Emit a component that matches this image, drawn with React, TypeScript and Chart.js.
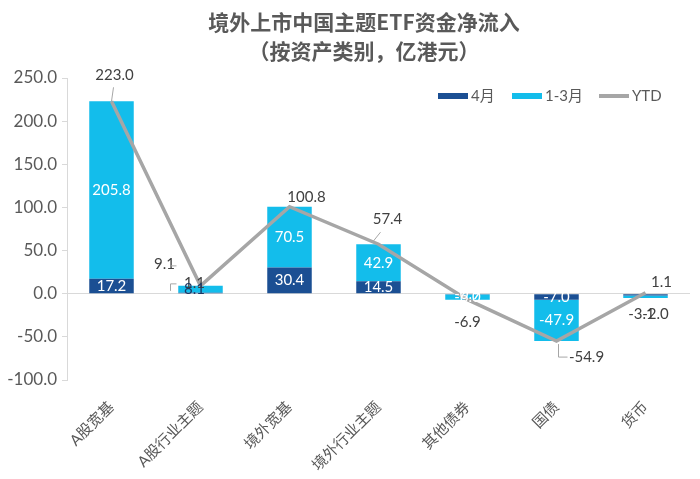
import React, { useEffect, useRef } from "react";
import { Chart, registerables } from "chart.js";

Chart.register(...registerables);

const categories = ["A股宽基", "A股行业主题", "境外宽基", "境外行业主题", "其他债券", "国债", "货币"];
const aprilValues = [17.2, 1.1, 30.4, 14.5, -0.9, -7.0, -2.0];
const q1Values = [205.8, 8.1, 70.5, 42.9, -6.0, -47.9, -3.1];
const ytdValues = [223.0, 9.1, 100.8, 57.4, -6.9, -54.9, 1.1];
const seriesNames = ["4月", "1-3月", "YTD"];
const titleLines = ["境外上市中国主题ETF资金净流入", "（按资产类别，亿港元）"];
const yMin = -100;
const yMax = 250;
const yStep = 50;

const DARK = "#1B4F93";
const CYAN = "#13BDEB";
const GRAY = "#A6A6A6";
const TEXT = "#595959";
const LABEL = "#404040";
const FONT = '"Lato", "Noto Sans CJK SC", sans-serif';

// style offsets for YTD labels (dx, dy from point)
const ytdLabelOffsets: [number, number][] = [
  [3, -26],
  [-36, -22],
  [17, -10],
  [9, -25],
  [0, 22],
  [30, 16],
  [16, -11],
];

const labelPlugin = {
  id: "labelPlugin",
  afterDatasetsDraw(chart: any) {
    const ctx = chart.ctx;
    ctx.save();
    ctx.font = `15px ${FONT}`;
    ctx.textAlign = "center";
    ctx.textBaseline = "middle";
    [0, 1].forEach((d) => {
      const meta = chart.getDatasetMeta(d);
      const vals = d === 0 ? aprilValues : q1Values;
      meta.data.forEach((el: any, i: number) => {
        const cx = el.x;
        const cy = (el.y + el.base) / 2;
        const txt = vals[i].toFixed(1);
        if (i === 1) {
          ctx.fillStyle = d === 0 ? LABEL : "#1F3864";
          ctx.fillText(txt, cx - 6, d === 0 ? cy - 10 : cy);
        } else if (i === 6) {
          ctx.fillStyle = LABEL;
          ctx.fillText(txt, d === 0 ? cx + 10 : cx - 4, chart.scales.y.getPixelForValue(0) + 20);
        } else {
          ctx.fillStyle = "#FFFFFF";
          ctx.fillText(txt, cx, cy);
        }
      });
    });
    // YTD labels
    const lm = chart.getDatasetMeta(2);
    ctx.fillStyle = LABEL;
    lm.data.forEach((pt: any, i: number) => {
      const [dx, dy] = ytdLabelOffsets[i];
      ctx.fillText(ytdValues[i].toFixed(1), pt.x + dx, pt.y + dy);
    });
    // leader lines
    ctx.strokeStyle = "#A6A6A6";
    ctx.lineWidth = 1;
    const p0 = lm.data[0];
    ctx.beginPath();
    ctx.moveTo(p0.x + 2, p0.y - 14);
    ctx.lineTo(p0.x, p0.y);
    ctx.stroke();
    const p1 = lm.data[1];
    ctx.beginPath();
    ctx.moveTo(p1.x - 24, p1.y - 20);
    ctx.lineTo(p1.x - 30, p1.y - 20);
    ctx.moveTo(p1.x - 30, p1.y - 2);
    ctx.lineTo(p1.x - 30, p1.y + 5);
    ctx.moveTo(p1.x - 30, p1.y - 2);
    ctx.lineTo(p1.x - 24, p1.y - 2);
    ctx.stroke();
    const p5 = lm.data[5];
    ctx.beginPath();
    ctx.moveTo(p5.x + 2, p5.y + 3);
    ctx.lineTo(p5.x + 2, p5.y + 16);
    ctx.lineTo(p5.x + 11, p5.y + 16);
    ctx.stroke();
    const p3 = lm.data[3];
    ctx.beginPath();
    ctx.moveTo(p3.x - 6, p3.y - 2);
    ctx.lineTo(p3.x + 2, p3.y - 12);
    ctx.stroke();
    ctx.restore();
  },
  afterDraw(chart: any) {
    const ctx = chart.ctx;
    ctx.save();
    // title
    ctx.fillStyle = TEXT;
    ctx.font = `bold 21px "Noto Sans CJK SC", sans-serif`;
    ctx.textAlign = "center";
    ctx.textBaseline = "middle";
    ctx.fillText(titleLines[0], 364, 22);
    ctx.fillText(titleLines[1], 364, 51);
    // legend
    ctx.font = `15px ${FONT}`;
    ctx.textAlign = "left";
    const y = 96;
    const items = [
      { x: 438, color: DARK, w: 6 },
      { x: 512, color: CYAN, w: 6 },
      { x: 599, color: GRAY, w: 4 },
    ];
    items.forEach((it, k) => {
      ctx.strokeStyle = it.color;
      ctx.lineWidth = it.w;
      ctx.beginPath();
      ctx.moveTo(it.x, y);
      ctx.lineTo(it.x + 30, y);
      ctx.stroke();
      ctx.fillStyle = TEXT;
      ctx.fillText(seriesNames[k], it.x + 33, y);
    });
    ctx.restore();
  },
};

export default function App() {
  const ref = useRef<HTMLCanvasElement>(null);
  useEffect(() => {
    if (!ref.current) return;
    const chart = new Chart(ref.current, {
      type: "bar",
      data: {
        labels: categories,
        datasets: [
          {
            type: "bar",
            label: seriesNames[0],
            data: aprilValues,
            backgroundColor: DARK,
            stack: "bars",
            order: 2,
            barPercentage: 0.5,
            categoryPercentage: 1,
          },
          {
            type: "bar",
            label: seriesNames[1],
            data: q1Values,
            backgroundColor: CYAN,
            stack: "bars",
            order: 2,
            barPercentage: 0.5,
            categoryPercentage: 1,
          },
          {
            type: "line",
            label: seriesNames[2],
            data: ytdValues,
            borderColor: GRAY,
            backgroundColor: GRAY,
            borderWidth: 3.5,
            pointRadius: 0,
            tension: 0,
            stack: "ytd",
            order: 1,
          } as any,
        ],
      },
      options: {
        animation: false,
        responsive: false,
        maintainAspectRatio: false,
        layout: { padding: { top: 78, right: 10, bottom: 0, left: 0 } },
        plugins: {
          legend: { display: false },
          title: { display: false },
          tooltip: { enabled: false },
        },
        scales: {
          x: {
            stacked: true,
            grid: { display: false },
            border: { display: false },
            ticks: {
              color: TEXT,
              font: { size: 15, family: FONT },
              maxRotation: 45,
              minRotation: 45,
              autoSkip: false,
              padding: 10,
            },
            afterFit: (s: any) => {
              s.height = 99;
            },
          },
          y: {
            stacked: true,
            min: yMin,
            max: yMax,
            ticks: {
              stepSize: yStep,
              color: TEXT,
              font: { size: 17, family: FONT },
              padding: 5,
              callback: (v: any) => Number(v).toFixed(1),
            },
            grid: {
              color: (c: any) => (c.tick && c.tick.value === 0 ? "#D9D9D9" : "rgba(0,0,0,0)"),
              tickColor: "#D9D9D9",
              tickLength: 5,
              lineWidth: 1,
            },
            border: { display: true, color: "#D9D9D9" },
            afterFit: (s: any) => {
              s.width = 67;
            },
          },
        },
      },
      plugins: [labelPlugin],
    });
    return () => chart.destroy();
  }, []);
  return (
    <div style={{ position: "fixed", left: 0, top: 0, width: 700, height: 479, background: "#fff" }}>
      <canvas ref={ref} width={700} height={479} style={{ width: 700, height: 479 }} />
    </div>
  );
}
